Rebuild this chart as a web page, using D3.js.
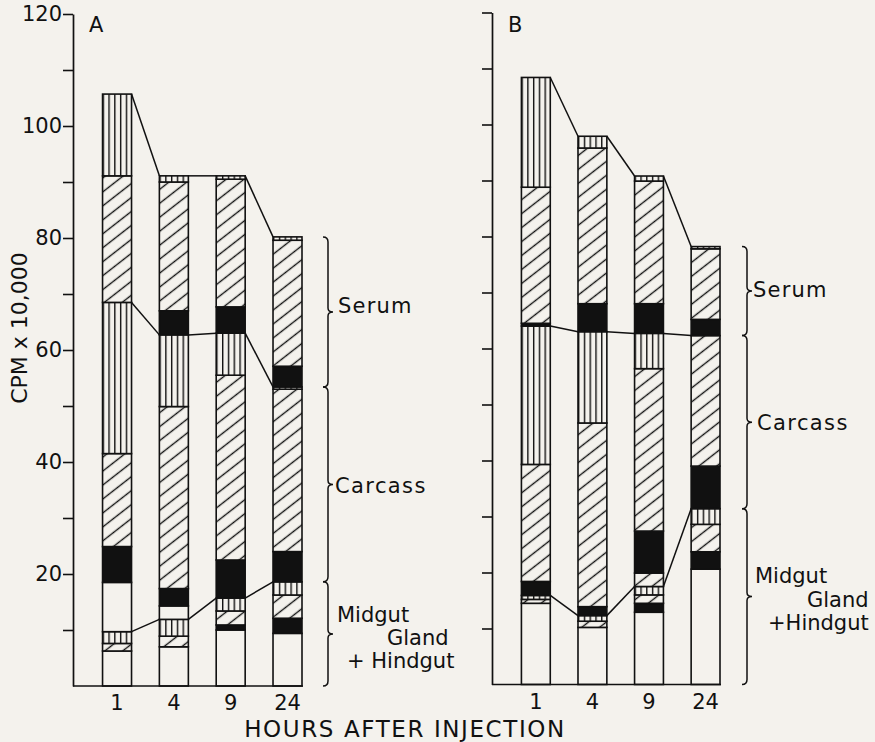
<!DOCTYPE html>
<html>
<head>
<meta charset="utf-8">
<script src="https://cdn.jsdelivr.net/npm/d3@7"></script>
<style>
  body { margin: 0; background: #f4f2ed; }
  svg text { font-family: "DejaVu Sans", sans-serif; fill: #111; }
</style>
</head>
<body>
<svg id="chart" width="875" height="742"></svg>
<script>
const hours = ["1", "4", "9", "24"];
const compartmentNames = ["Midgut Gland + Hindgut", "Carcass", "Serum"];
const yTicks = d3.range(10, 121, 10);

// each bar: [fraction, cpm x 10,000] from bottom up
const aMidgut = [
  [["open", 6.25], ["hatch", 1.35], ["lines", 2.1]],
  [["open", 7.0], ["hatch", 1.9], ["lines", 3.0]],
  [["open", 10.0], ["solid", 0.9], ["hatch", 2.5], ["lines", 2.3]],
  [["open", 9.4], ["solid", 2.7], ["hatch", 4.15], ["lines", 2.35]]
];
const aCarcass = [
  [["open", 8.8], ["solid", 6.4], ["hatch", 16.6], ["lines", 27.0]],
  [["open", 2.4], ["solid", 3.1], ["hatch", 32.5], ["lines", 12.8]],
  [["solid", 6.8], ["hatch", 33.0], ["lines", 7.5]],
  [["solid", 5.4], ["hatch", 29.0], ["lines", 0.4]]
];
const aSerum = [
  [["hatch", 22.6], ["lines", 14.6]],
  [["solid", 4.3], ["hatch", 23.0], ["lines", 1.1]],
  [["solid", 4.7], ["hatch", 22.8], ["lines", 0.6]],
  [["solid", 3.7], ["hatch", 22.5], ["lines", 0.6]]
];

const bMidgut = [
  [["open", 14.5], ["hatch", 0.7], ["lines", 0.7]],
  [["open", 10.2], ["hatch", 1.1], ["lines", 1.0]],
  [["open", 12.9], ["solid", 1.6], ["hatch", 1.5], ["lines", 1.5]],
  [["open", 20.6], ["solid", 3.1], ["hatch", 4.9], ["lines", 2.8]]
];
const bCarcass = [
  [["solid", 2.5], ["hatch", 20.9], ["lines", 24.7]],
  [["solid", 1.6], ["hatch", 32.8], ["lines", 16.3]],
  [["hatch", 2.4], ["solid", 7.5], ["hatch", 29.0], ["lines", 6.3]],
  [["solid", 7.6], ["hatch", 23.3]]
];
const bSerum = [
  [["solid", 0.5], ["hatch", 24.3], ["lines", 19.6]],
  [["solid", 5.0], ["hatch", 27.8], ["lines", 2.1]],
  [["solid", 5.3], ["hatch", 21.9], ["lines", 0.9]],
  [["solid", 2.9], ["hatch", 12.6], ["lines", 0.4]]
];

const bg = "#f4f2ed";
const ink = "#111";
const svg = d3.select("#chart");
svg.append("rect").attr("width", 875).attr("height", 742).attr("fill", bg);
const defs = svg.append("defs");

// diagonal hatch
defs.append("pattern")
  .attr("id", "hatch")
  .attr("patternUnits", "userSpaceOnUse")
  .attr("width", 11).attr("height", 11)
  .attr("patternTransform", "rotate(-38)")
  .call(p => {
    p.append("rect").attr("width", 11).attr("height", 11).attr("fill", bg);
    p.append("line").attr("x1", 0).attr("x2", 11).attr("y1", 5.5).attr("y2", 5.5)
      .attr("stroke", ink).attr("stroke-width", 1.4);
  });

const panels = [
  { key: "A", comps: [aMidgut, aCarcass, aSerum], x0: 73, x1: 302,
    y: d3.scaleLinear().domain([0, 120]).range([686, 14]), braceX: 328,
    labels: [["Midgut", 337, 622, 0], ["Gland", 387, 645, 0], ["+ Hindgut", 347, 668, 0],
             ["Carcass", 335, 493, 1.4], ["Serum", 338, 313, 1.2]],
    showLabels: true },
  { key: "B", comps: [bMidgut, bCarcass, bSerum], x0: 492, x1: 720,
    y: d3.scaleLinear().domain([0, 120]).range([684.5, 12.5]), braceX: 747,
    labels: [["Midgut", 755, 583, 0], ["Gland", 807, 607, 0], ["+Hindgut", 768, 630, 0],
             ["Carcass", 757, 430, 1.4], ["Serum", 753, 297, 1.2]],
    showLabels: false }
];

panels.forEach(panel => {
  const x = d3.scaleBand().domain(hours).range([panel.x0, panel.x1])
    .paddingInner(0.49).paddingOuter(0.26).align(1);
  const y = panel.y;
  const bw = x.bandwidth();
  const g = svg.append("g");

  // stack each bar, remembering compartment tops
  const bars = hours.map((h, i) => {
    let base = 0;
    const segs = [];
    const tops = [];
    panel.comps.forEach(comp => {
      comp[i].forEach(([kind, v]) => {
        segs.push({ kind, y0: base, y1: base + v });
        base += v;
      });
      tops.push(base);
    });
    return { hour: h, segs, tops };
  });

  // vertical line pattern per bar so lines sit evenly inside it
  bars.forEach((b, i) => {
    const p = defs.append("pattern")
      .attr("id", `vl-${panel.key}-${i}`)
      .attr("patternUnits", "userSpaceOnUse")
      .attr("x", x(b.hour)).attr("y", 0)
      .attr("width", bw / 5).attr("height", 10);
    p.append("rect").attr("width", bw / 5).attr("height", 10).attr("fill", bg);
    p.append("line").attr("x1", 0.7).attr("x2", 0.7).attr("y1", 0).attr("y2", 10)
      .attr("stroke", ink).attr("stroke-width", 1.4);
  });

  const fillFor = (kind, i) => kind === "solid" ? ink
    : kind === "hatch" ? "url(#hatch)"
    : kind === "lines" ? `url(#vl-${panel.key}-${i})`
    : bg;

  bars.forEach((b, i) => {
    g.selectAll(null)
      .data(b.segs)
      .enter()
      .append("rect")
      .attr("x", x(b.hour))
      .attr("y", d => y(d.y1))
      .attr("width", bw)
      .attr("height", d => y(d.y0) - y(d.y1))
      .attr("fill", d => fillFor(d.kind, i))
      .attr("stroke", ink)
      .attr("stroke-width", 1.6);
  });

  // connecting lines between compartment tops
  d3.range(3).forEach(c => {
    d3.range(bars.length - 1).forEach(i => {
      g.append("line")
        .attr("x1", x(bars[i].hour) + bw).attr("y1", y(bars[i].tops[c]))
        .attr("x2", x(bars[i + 1].hour)).attr("y2", y(bars[i + 1].tops[c]))
        .attr("stroke", ink).attr("stroke-width", 1.5);
    });
  });

  // y axis
  svg.append("g")
    .attr("transform", `translate(${panel.x0},0)`)
    .call(d3.axisLeft(y).tickValues(yTicks).tickSize(10).tickSizeOuter(0).tickPadding(1)
      .tickFormat(d => panel.showLabels && d % 20 === 0 ? d : ""))
    .call(a => a.select(".domain").attr("stroke", ink).attr("stroke-width", 1.7))
    .call(a => a.selectAll(".tick line").attr("stroke", ink).attr("stroke-width", 1.6))
    .call(a => a.selectAll(".tick text").attr("font-size", 21).attr("font-family", "DejaVu Sans").attr("fill", ink));

  // baseline
  svg.append("line")
    .attr("x1", panel.x0).attr("x2", panel.x1 + 1)
    .attr("y1", y(0)).attr("y2", y(0))
    .attr("stroke", ink).attr("stroke-width", 1.7);

  // hour labels
  svg.selectAll(null)
    .data(hours)
    .enter()
    .append("text")
    .attr("x", d => x(d) + bw / 2)
    .attr("y", y(0) + 24)
    .attr("text-anchor", "middle")
    .attr("font-size", 21)
    .text(d => d);

  // panel letter
  svg.append("text")
    .attr("x", panel.x0 + 16).attr("y", 32)
    .attr("font-size", 21)
    .text(panel.key);

  // braces for the last bar's compartments
  const last = bars[bars.length - 1];
  const edges = [0, ...last.tops];
  d3.range(3).forEach(c => {
    const yb = y(edges[c]), yt = y(edges[c + 1]), ym = (yb + yt) / 2, bx = panel.braceX;
    const path = d3.path();
    path.moveTo(bx - 5, yt);
    path.quadraticCurveTo(bx, yt, bx, yt + 5);
    path.lineTo(bx, ym - 4);
    path.quadraticCurveTo(bx, ym, bx + 5, ym);
    path.quadraticCurveTo(bx, ym, bx, ym + 4);
    path.lineTo(bx, yb - 5);
    path.quadraticCurveTo(bx, yb, bx - 5, yb);
    g.append("path").attr("d", path.toString())
      .attr("fill", "none").attr("stroke", ink).attr("stroke-width", 1.5);
  });

  svg.selectAll(null)
    .data(panel.labels)
    .enter()
    .append("text")
    .attr("x", d => d[1]).attr("y", d => d[2])
    .attr("font-size", 21)
    .attr("letter-spacing", d => d[3])
    .text(d => d[0]);
});

// axis titles
svg.append("text")
  .attr("transform", "translate(27,328) rotate(-90)")
  .attr("text-anchor", "middle")
  .attr("font-size", 22)
  .text("CPM x 10,000");

svg.append("text")
  .attr("x", 405).attr("y", 737)
  .attr("text-anchor", "middle")
  .attr("font-size", 23)
  .attr("letter-spacing", 1.6)
  .text("HOURS AFTER INJECTION");
</script>
</body>
</html>
